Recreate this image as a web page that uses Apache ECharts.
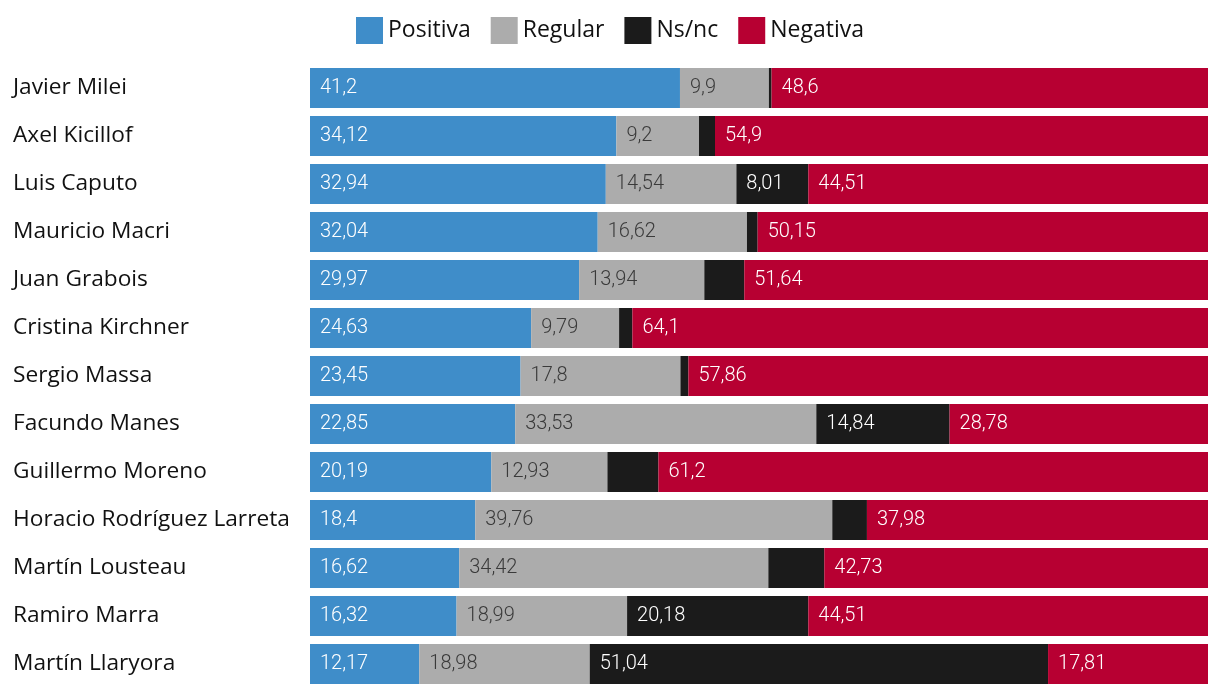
<!DOCTYPE html>
<html>
<head>
<meta charset="utf-8">
<script src="https://cdn.jsdelivr.net/npm/echarts@6/dist/echarts.min.js"></script>
<style>html,body{margin:0;padding:0;background:#fff;}#c{width:1220px;height:696px;}</style>
</head>
<body>
<div id="c"></div>
<script>
const categories = ["Javier Milei","Axel Kicillof","Luis Caputo","Mauricio Macri","Juan Grabois","Cristina Kirchner","Sergio Massa","Facundo Manes","Guillermo Moreno","Horacio Rodríguez Larreta","Martín Lousteau","Ramiro Marra","Martín Llaryora"];
const positiva = [41.2,34.12,32.94,32.04,29.97,24.63,23.45,22.85,20.19,18.4,16.62,16.32,12.17];
const regular = [9.9,9.2,14.54,16.62,13.94,9.79,17.8,33.53,12.93,39.76,34.42,18.99,18.98];
const nsnc = [0.3,1.78,8.01,1.19,4.45,1.48,0.89,14.84,5.68,3.86,6.23,20.18,51.04];
const negativa = [48.6,54.9,44.51,50.15,51.64,64.1,57.86,28.78,61.2,37.98,42.73,44.51,17.81];
const seriesNames = ["Positiva","Regular","Ns/nc","Negativa"];
const colors = ["#3f8dc9","#acacac","#1b1b1b","#b70032"];
const labelColors = ["#ffffff","#3a3a3a","#ffffff","#ffffff"];
const FONT = "Roboto";
const FONT2 = "Open Sans";

const chart = echarts.init(document.getElementById('c'), null, {renderer:'canvas'});
const fmt = v => String(v).replace('.', ',');
const allData = [positiva, regular, nsnc, negativa];
const series = allData.map((arr, i) => ({
  name: seriesNames[i],
  type: 'bar',
  stack: 'total',
  barCategoryGap: '16.67%',
  itemStyle: {color: colors[i]},
  data: arr.map(v => ({
    value: v,
    label: {show: v >= 7}
  })),
  label: {
    position: 'insideLeft',
    distance: 10,
    color: labelColors[i],
    fontFamily: FONT,
    fontWeight: 300,
    fontSize: 20,
    padding: [8,0,0,0],
    formatter: p => fmt(p.value)
  },
  emphasis: {disabled: true},
  animation: false
}));

chart.setOption({
  animation: false,
  legend: {
    top: 12,
    left: 'center',
    itemWidth: 27,
    itemHeight: 27,
    itemGap: 20,
    icon: 'rect',
    textStyle: {fontFamily: FONT2, fontSize: 23, color: '#111', padding: [2,0,0,0]},
    data: seriesNames
  },
  grid: {left: 310, right: 12, top: 64, bottom: 8, containLabel: false},
  xAxis: {type: 'value', min: 0, max: 100, show: false},
  yAxis: {
    type: 'category',
    data: categories,
    inverse: true,
    axisLine: {show: false},
    axisTick: {show: false},
    axisLabel: {
      align: 'left',
      margin: 297,
      fontFamily: FONT2,
      fontSize: 22.7,
      color: '#111',
      padding: [8,0,0,0]
    }
  },
  series: series
});
</script>
</body>
</html>
